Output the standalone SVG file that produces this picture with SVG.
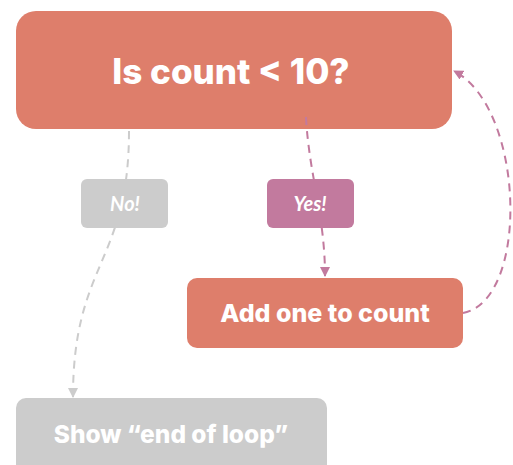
<svg xmlns="http://www.w3.org/2000/svg" width="513" height="465" viewBox="0 0 513 465">
  <style>
    .box-main { fill: #de7e6b; }
    .box-grey { fill: #cccccc; }
    .box-pink { fill: #c27a9e; }
    .title { font-family: Inter, "Open Sans", sans-serif; font-weight: 800; fill: #ffffff; text-anchor: middle; }
    .tag { font-family: Lato, "Open Sans", sans-serif; font-weight: 700; font-style: italic; fill: #ffffff; text-anchor: middle; font-size: 20px; }
    .link { fill: none; stroke-width: 2; stroke-dasharray: 8 6; }
    .link-grey { stroke: #cccccc; }
    .link-pink { stroke: #c27a9e; }
  </style>
  <defs>
    <marker id="arrow-grey" viewBox="0 0 10 10" refX="9" refY="5" markerWidth="5" markerHeight="5" markerUnits="strokeWidth" orient="auto">
      <path d="M0,0 L10,5 L0,10 Z" fill="#cccccc"/>
    </marker>
    <marker id="arrow-pink" viewBox="0 0 10 10" refX="9" refY="5" markerWidth="5" markerHeight="5" markerUnits="strokeWidth" orient="auto">
      <path d="M0,0 L10,5 L0,10 Z" fill="#c27a9e"/>
    </marker>
  </defs>

  <g id="node-check">
    <rect class="box-main" x="16" y="11" width="436" height="118" rx="20"/>
    <text class="title" x="231" y="84" font-size="35">Is count &lt; 10?</text>
  </g>

  <g id="connectors">
    <path class="link link-grey" d="M129,131 C129,263 73,263 73,397" marker-end="url(#arrow-grey)"/>
    <path class="link link-pink" d="M306,117 C309,175 325,215 325,276" marker-end="url(#arrow-pink)"/>
    <path class="link link-pink" d="M463,313 C530,300 525,108 454,71" marker-end="url(#arrow-pink)"/>
  </g>

  <g id="label-no">
    <rect class="box-grey" x="81" y="179" width="87" height="49" rx="6"/>
    <text class="tag" x="125" y="211">No!</text>
  </g>

  <g id="label-yes">
    <rect class="box-pink" x="267" y="179" width="87" height="49" rx="6"/>
    <text class="tag" x="310" y="211">Yes!</text>
  </g>

  <g id="node-increment">
    <rect class="box-main" x="187" y="278" width="276" height="70" rx="10"/>
    <text class="title" x="325" y="322" font-size="25">Add one to count</text>
  </g>

  <g id="node-end">
    <rect class="box-grey" x="16" y="398" width="311" height="80" rx="10"/>
    <text class="title" x="171" y="443" font-size="24.5">Show “end of loop”</text>
  </g>
</svg>
